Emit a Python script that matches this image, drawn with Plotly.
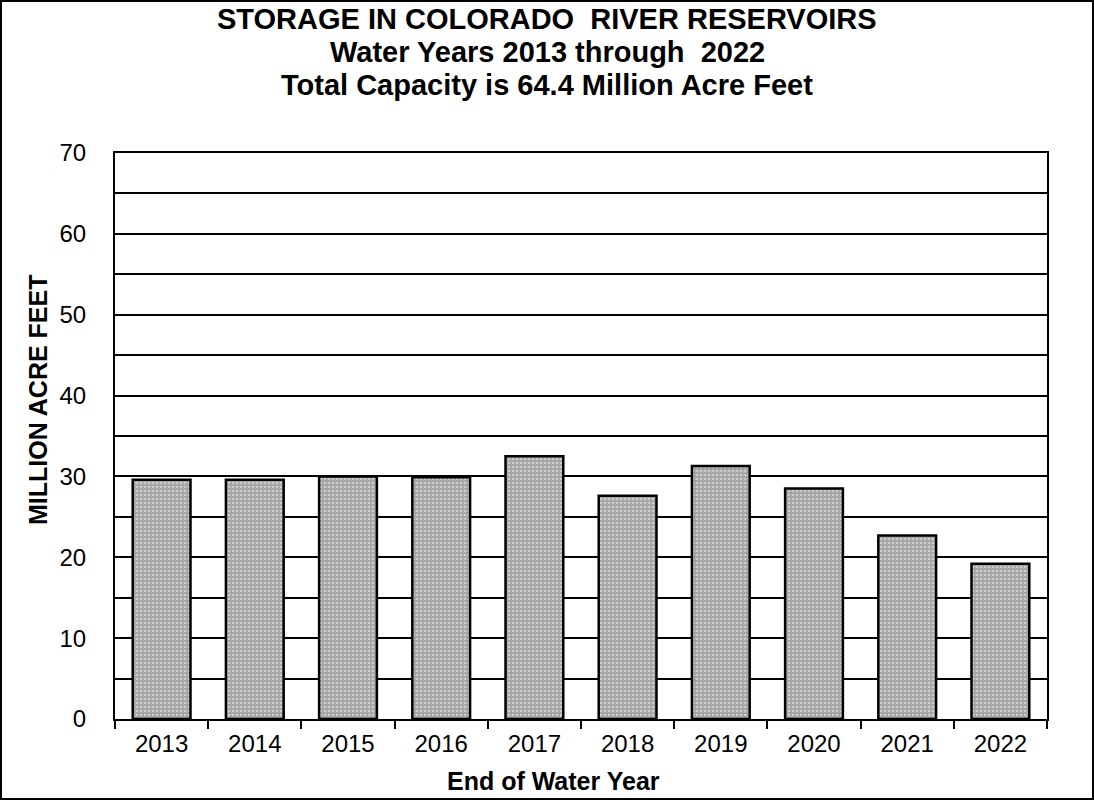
import plotly.graph_objects as go

years = ["2013", "2014", "2015", "2016", "2017", "2018", "2019", "2020", "2021", "2022"]
storage = [29.6, 29.6, 30.0, 29.9, 32.5, 27.6, 31.3, 28.5, 22.7, 19.2]

title_lines = ["STORAGE IN COLORADO  RIVER RESERVOIRS",
               "Water Years 2013 through  2022",
               "Total Capacity is 64.4 Million Acre Feet"]
x_title = "End of Water Year"
y_title = "MILLION ACRE FEET"

FONT = "Liberation Sans, Arial, sans-serif"

W, H = 1094, 800
ml, mr, mt, mb = 115, 47, 153, 81
pw = W - ml - mr
ph = H - mt - mb


def px_x(x):
    return (x - ml) / pw


def px_y(y):
    return (H - mb - y) / ph


fig = go.Figure()
fig.add_trace(go.Bar(
    x=years, y=storage,
    marker=dict(
        color="#b0b0b0",
        line=dict(color="black", width=2.5),
        pattern=dict(shape=".", bgcolor="#a4a4a4", fgcolor="#f4f4f4", size=4, solidity=0.35),
    ),
    width=0.62,
))

fig.update_layout(
    width=W, height=H,
    margin=dict(l=ml, r=mr, t=mt, b=mb),
    paper_bgcolor="white", plot_bgcolor="white",
    font=dict(family=FONT, color="black", size=24),
    showlegend=False,
    xaxis=dict(
        showline=True, linecolor="black", linewidth=2, mirror=True,
        ticks="outside", tickson="boundaries", ticklen=8, tickcolor="black", tickwidth=1.5,
        tickfont=dict(size=24), ticklabelstandoff=2,
    ),
    yaxis=dict(
        range=[0, 70], dtick=10, tick0=0,
        showline=True, linecolor="black", linewidth=2, mirror=True,
        showgrid=True, gridcolor="black", gridwidth=2,
        minor=dict(dtick=5, showgrid=True, gridcolor="black", gridwidth=2),
        ticks="", ticklabelstandoff=22,
        tickfont=dict(size=24),
        zeroline=False,
    ),
)

# title lines
for line, yc in zip(title_lines, [19, 52, 85]):
    fig.add_annotation(text=line.replace("  ", "&nbsp; "), xref="paper", yref="paper",
                       x=px_x(547), y=px_y(yc), xanchor="center", yanchor="middle",
                       showarrow=False,
                       font=dict(family=FONT, size=29, color="black", weight="bold"))

# axis titles
fig.add_annotation(text=x_title, xref="paper", yref="paper",
                   x=px_x(553), y=px_y(781), xanchor="center", yanchor="middle",
                   showarrow=False,
                   font=dict(family=FONT, size=25, color="black", weight="bold"))
fig.add_annotation(text=y_title, xref="paper", yref="paper",
                   x=px_x(38), y=px_y(400), xanchor="center", yanchor="middle",
                   textangle=-90, showarrow=False,
                   font=dict(family=FONT, size=25, color="black", weight="bold"))

# outer border around the whole picture
fig.add_shape(type="rect", xref="paper", yref="paper",
              x0=px_x(1), x1=px_x(W - 1),
              y0=px_y(H - 1), y1=px_y(1),
              line=dict(color="black", width=2), layer="above")

fig.write_html("out.html")
